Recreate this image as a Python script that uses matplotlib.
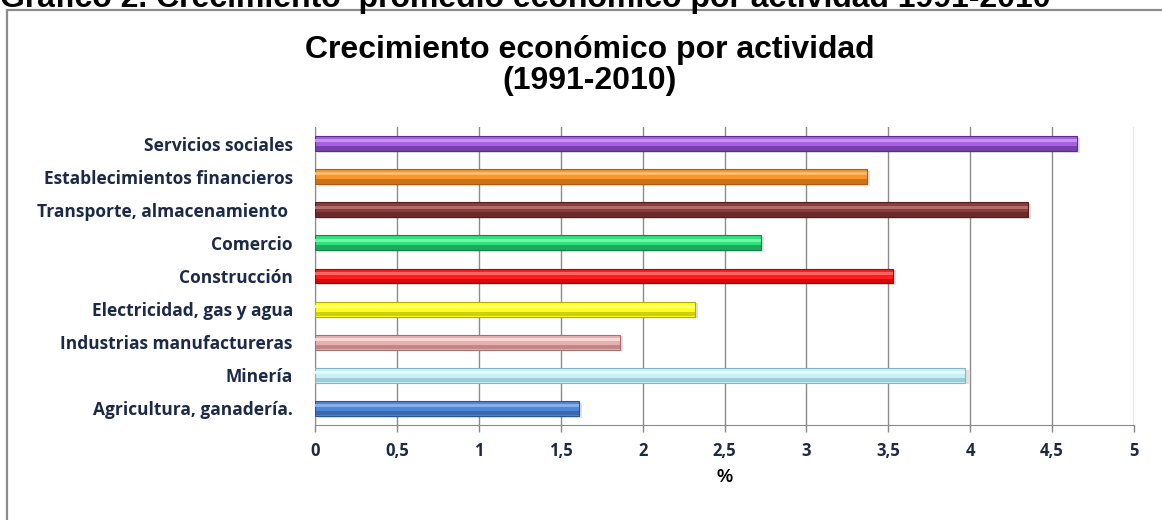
import numpy as np
import matplotlib
matplotlib.use("Agg")
import matplotlib.pyplot as plt
from matplotlib.patches import Rectangle

categorias = ["Agricultura, ganadería.", "Minería", "Industrias manufactureras",
              "Electricidad, gas y agua", "Construcción", "Comercio",
              "Transporte, almacenamiento ", "Establecimientos financieros",
              "Servicios sociales"]
valores = [1.61, 3.97, 1.86, 2.32, 3.53, 2.72, 4.35, 3.37, 4.65]

colores = ["#4f86d6", "#c4f0f8", "#e8b0b0", "#ffff20", "#ff1c1c",
           "#2ee27c", "#8c3c3c", "#f8962c", "#a660e0"]
claros = ["#8cb6ee", "#eafcff", "#fbdcdc", "#ffff90", "#ff6a6a",
          "#7cf5ac", "#b47474", "#ffc070", "#c99af2"]
oscuros = ["#2b5590", "#86b4c0", "#a86e6e", "#b0b000", "#b00000",
           "#15844a", "#551e1e", "#b05a10", "#5c2c8c"]

ticks = np.arange(0, 5.01, 0.5)
tick_labels = ["0", "0,5", "1", "1,5", "2", "2,5", "3", "3,5", "4", "4,5", "5"]

navy = "#1c2a48"

fig = plt.figure(figsize=(11.62, 5.2), dpi=100)
ax = fig.add_axes([315/1162, 1-425/520, (1134-315)/1162, (425-127)/520])

y = np.arange(len(categorias))
h = 0.45
# sombra, base, franja oscura, brillo
ax.barh(y - 0.05, valores, height=h, left=0.02, color="#000000", alpha=0.12, zorder=2)
ax.barh(y, valores, height=h, color=colores, edgecolor=oscuros, linewidth=0.8, zorder=3)
ax.barh(y - h*0.32, valores, height=h*0.3, color=oscuros, alpha=0.6, linewidth=0, zorder=4)
ax.barh(y + h*0.18, valores, height=h*0.2, color=claros, alpha=0.9, linewidth=0, zorder=4)

ax.set_xlim(0, 5)
ax.set_ylim(-0.5, len(categorias) - 0.5)
ax.set_xticks(ticks)
ax.set_xticklabels(tick_labels, fontfamily="Open Sans", fontweight="bold", fontsize=12, color=navy)
ax.set_yticks(y)
ax.set_yticklabels(categorias, fontfamily="Open Sans", fontweight="bold", fontsize=12.5, color=navy)
ax.tick_params(axis="y", length=0, pad=16)
ax.tick_params(axis="x", length=5, color="#888888", width=1, pad=7, direction="out")
ax.grid(axis="x", color="#8a8a8a", linewidth=1)
ax.set_axisbelow(True)
for s in ["top", "right"]:
    ax.spines[s].set_visible(False)
ax.spines["left"].set_color("#8a8a8a")
ax.spines["bottom"].set_color("#8a8a8a")
ax.set_xlabel("%", fontfamily="Liberation Sans", fontweight="bold", fontsize=13, labelpad=7)

fig.text(590/1162, 1-58/520, "Crecimiento económico por actividad",
         ha="center", va="baseline", fontfamily="Liberation Sans", fontweight="bold", fontsize=23)
fig.text(590/1162, 1-89/520, "(1991-2010)",
         ha="center", va="baseline", fontfamily="Liberation Sans", fontweight="bold", fontsize=23)

fig.text(0.0, 1-7/520, "Gráfico 2. Crecimiento  promedio económico por actividad 1991-2010",
         ha="left", va="baseline", fontfamily="Liberation Sans", fontweight="bold", fontsize=23)

fig.patches.append(Rectangle((7/1162, -0.05), 1.2, 1-10/520 + 0.05, transform=fig.transFigure,
                             fill=False, edgecolor="#8c8c8c", linewidth=1.6, zorder=0))

fig.savefig("out.png", dpi=100)
